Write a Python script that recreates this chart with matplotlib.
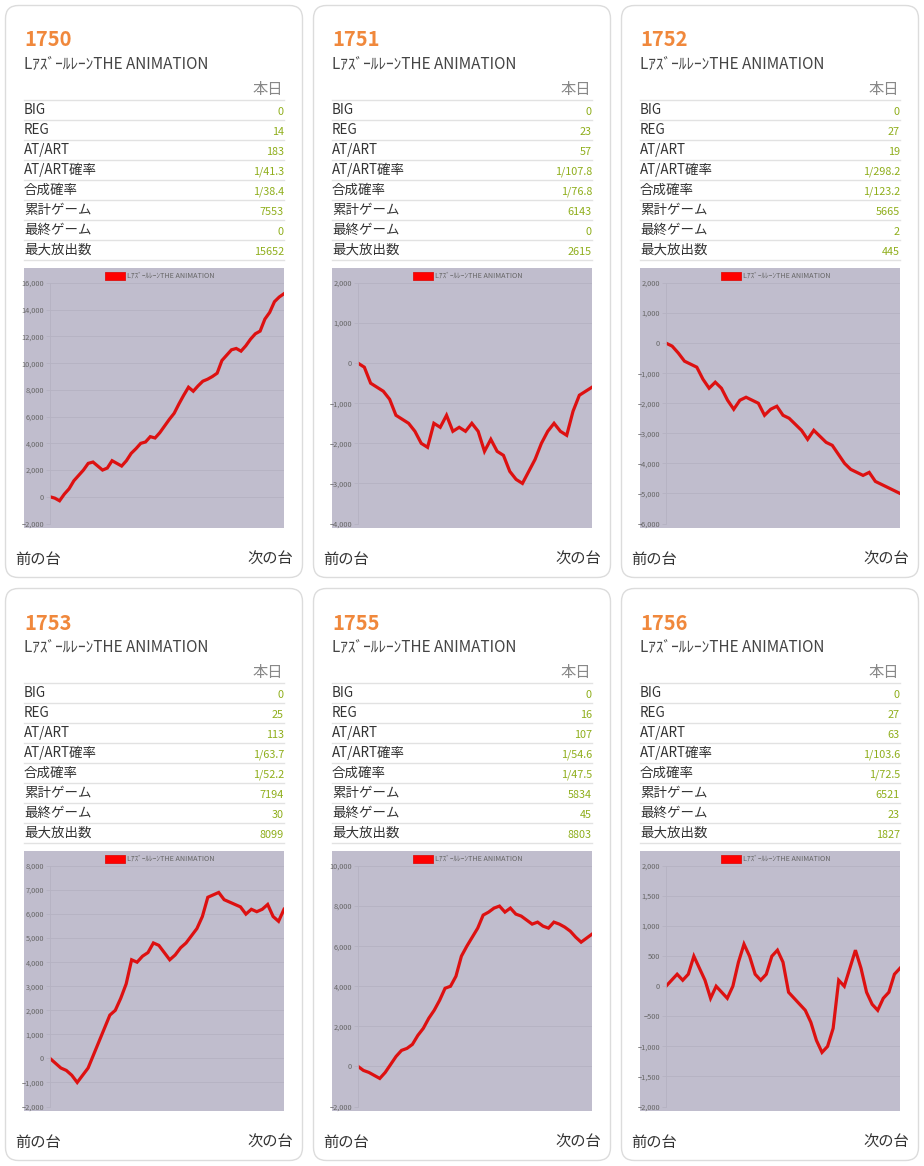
import matplotlib.pyplot as plt
import matplotlib.ticker as mticker
from matplotlib.patches import FancyBboxPatch, Rectangle

plt.rcParams['font.family'] = ['Noto Sans CJK JP', 'DejaVu Sans']

# machine data
machines = ['1750', '1751', '1752', '1753', '1755', '1756']
model = 'LｱｽﾞｰﾙﾚｰﾝTHE ANIMATION'
row_labels = ['BIG', 'REG', 'AT/ART', 'AT/ART確率', '合成確率', '累計ゲーム', '最終ゲーム', '最大放出数']
big = ['0', '0', '0', '0', '0', '0']
reg = ['14', '23', '27', '25', '16', '27']
at_art = ['183', '57', '19', '113', '107', '63']
at_prob = ['1/41.3', '1/107.8', '1/298.2', '1/63.7', '1/54.6', '1/103.6']
comb_prob = ['1/38.4', '1/76.8', '1/123.2', '1/52.2', '1/47.5', '1/72.5']
total_games = ['7553', '6143', '5665', '7194', '5834', '6521']
last_game = ['0', '0', '2', '30', '45', '23']
max_out = ['15652', '2615', '445', '8099', '8803', '1827']

# slump graphs
s1750 = [0, -100, -300, 200, 600, 1200, 1600, 2000, 2500, 2600, 2300, 2000, 2150, 2700,
         2500, 2300, 2700, 3250, 3600, 4000, 4100, 4500, 4400, 4800, 5300, 5800, 6250,
         6950, 7600, 8200, 7900, 8300, 8650, 8800, 9000, 9250, 10200, 10600, 11000, 11100,
         10900, 11300, 11800, 12200, 12400, 13300, 13800, 14600, 14950, 15200]
s1751 = [0, -100, -500, -600, -700, -900, -1300, -1400, -1500, -1700, -2000, -2100,
         -1500, -1600, -1300, -1700, -1600, -1700, -1500, -1700, -2200, -1900, -2200,
         -2300, -2700, -2900, -3000, -2700, -2400, -2000, -1700, -1500, -1700, -1800,
         -1200, -800, -700, -600]
s1752 = [0, -100, -330, -600, -700, -800, -1200, -1500, -1300, -1500, -1900, -2200,
         -1900, -1800, -1900, -2000, -2400, -2200, -2100, -2400, -2500, -2700, -2900,
         -3200, -2900, -3100, -3300, -3400, -3700, -4000, -4200, -4300, -4400, -4300,
         -4600, -4700, -4800, -4900, -5000]
s1753 = [0, -200, -400, -500, -700, -1000, -700, -400, 150, 700, 1250, 1800, 2000, 2500,
         3100, 4100, 4000, 4250, 4400, 4800, 4700, 4400, 4100, 4300, 4600, 4800, 5100,
         5400, 5900, 6700, 6800, 6900, 6600, 6500, 6400, 6300, 6000, 6200, 6100, 6200,
         6400, 5900, 5700, 6200]
s1755 = [0, -200, -300, -450, -600, -300, 100, 500, 800, 900, 1100, 1550, 1900, 2400,
         2800, 3300, 3900, 4000, 4500, 5500, 6000, 6450, 6900, 7550, 7700, 7900, 8000,
         7700, 7900, 7600, 7500, 7300, 7100, 7200, 7000, 6900, 7200, 7100, 6950, 6750,
         6450, 6200, 6400, 6600]
s1756 = [0, 100, 200, 100, 200, 500, 300, 100, -200, 0, -100, -200, 0, 400, 700, 500,
         200, 100, 200, 500, 600, 400, -100, -200, -300, -400, -600, -900, -1100, -1000,
         -700, 100, 0, 300, 600, 300, -100, -300, -400, -200, -100, 200, 300]
series = [s1750, s1751, s1752, s1753, s1755, s1756]
y_ranges = [(-2000, 16000, 2000), (-4000, 2000, 1000), (-6000, 2000, 1000),
            (-2000, 8000, 1000), (-2000, 10000, 2000), (-2000, 2000, 500)]

W, H = 924, 1166
fig = plt.figure(figsize=(W / 100, H / 100), dpi=100)
bg = fig.add_axes([0, 0, 1, 1])
bg.set_xlim(0, W)
bg.set_ylim(H, 0)
bg.axis('off')


def px_axes(x, y, w, h):
    return fig.add_axes([x / W, 1 - (y + h) / H, w / W, h / H])


for i, num in enumerate(machines):
    ox = 5 + (i % 3) * 308
    oy = 5 + (i // 3) * 583
    bg.add_patch(FancyBboxPatch((ox + 0.5, oy + 0.5), 297, 572,
                                boxstyle='round,pad=0,rounding_size=13',
                                fc='white', ec='#dcdcdc', lw=1))
    bg.text(ox + 19, oy + 35, num, fontsize=14.5, color='#f0883c', fontweight='bold',
            va='center', ha='left')
    bg.text(ox + 19, oy + 59.5, model, fontsize=11, color='#444444',
            va='center', ha='left')
    bg.text(ox + 278, oy + 84.5, '本日', fontsize=11, color='#888888',
            va='center', ha='right')
    vals = [big[i], reg[i], at_art[i], at_prob[i], comb_prob[i], total_games[i],
            last_game[i], max_out[i]]
    bg.plot([ox + 19, ox + 279], [oy + 94.5, oy + 94.5], color='#e2e2e2', lw=1)
    for r, (lab, v) in enumerate(zip(row_labels, vals)):
        cy = oy + 105 + r * 20
        bg.text(ox + 19, cy, lab, fontsize=9.7, color='#333333', va='center', ha='left')
        bg.text(ox + 279, cy + 1.8, v, fontsize=7.8, color='#8fae1b', va='center', ha='right')
        bg.plot([ox + 19, ox + 279], [cy + 9.5, cy + 9.5], color='#e2e2e2', lw=1)
    bg.text(ox + 10, oy + 554, '前の台', fontsize=11, color='#333333', va='center', ha='left')
    bg.text(ox + 288, oy + 554, '次の台', fontsize=11, color='#333333', va='center', ha='right')

    # chart
    cx, cy0, cw, ch = ox + 19, oy + 263, 260, 260
    bg.add_patch(Rectangle((cx, cy0), cw, ch, fc='#c0bdcd', ec='none'))
    ax = px_axes(cx + 26, cy0 + 15, cw - 26, ch - 19.5)
    ax.set_facecolor('none')
    data = series[i]
    ax.plot(range(len(data)), data, color='#dd1111', lw=2.3, solid_joinstyle='miter')
    lo, hi, step = y_ranges[i]
    ax.set_ylim(lo, hi)
    ax.set_xlim(0, len(data) - 1)
    ax.set_yticks(range(lo, hi + 1, step))
    ax.yaxis.set_major_formatter(mticker.StrMethodFormatter('{x:,.0f}'))
    ax.set_xticks([])
    ax.tick_params(axis='y', labelsize=5.3, labelcolor='#666666', length=3,
                   color='#b5b2c2', pad=1.2, width=0.6)
    ax.grid(axis='y', color='#b5b2c2', lw=0.6)
    ax.set_axisbelow(True)
    for side in ['top', 'right', 'bottom']:
        ax.spines[side].set_visible(False)
    ax.spines['left'].set_color('#b5b2c2')
    ax.spines['left'].set_linewidth(0.6)
    # legend
    bg.add_patch(Rectangle((cx + 81, cy0 + 3.5), 20, 8, fc='#ff0000', ec='#dd1111', lw=0.6))
    bg.text(cx + 103, cy0 + 7.5, model, fontsize=5.2, color='#666666', va='center', ha='left')

fig.savefig('out.png', dpi=100)
